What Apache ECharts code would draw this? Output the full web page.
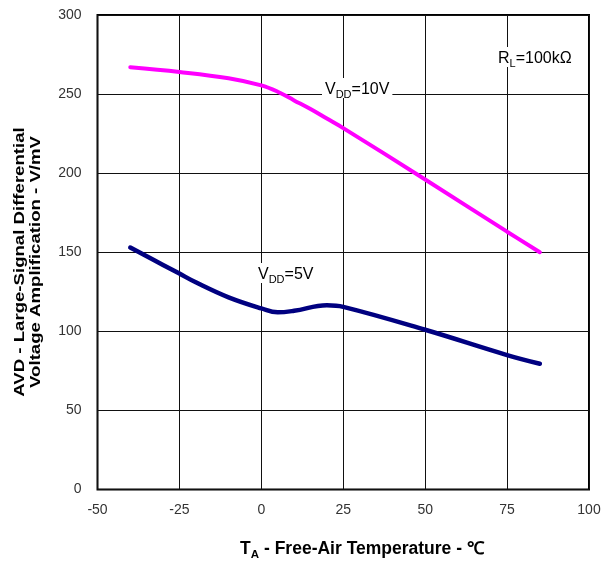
<!DOCTYPE html>
<html><head><meta charset="utf-8">
<script src="https://cdn.jsdelivr.net/npm/echarts@6/dist/echarts.min.js"></script>
<style>html,body{margin:0;padding:0;background:#fff}#c{width:613px;height:561px}</style>
</head><body><div id="c"></div>
<script>
var xTicks = [-50, -25, 0, 25, 50, 75, 100];
var yTicks = [0, 50, 100, 150, 200, 250, 300];
var temps10 = [-40, -25, -10, 0, 5, 10, 15, 20, 25, 50, 75, 85];
var vals10  = [267, 264, 260, 255.5, 251.5, 246, 240.5, 234.5, 228.5, 196, 163, 150];
var temps5 = [-40, -30, -25, -20, -10, 0, 5, 10, 20, 25, 50, 75, 85];
var vals5  = [153, 142, 136.5, 131, 121.5, 114.5, 112, 113, 116.5, 115.5, 101, 85, 79.5];
var seriesNames = ['VDD=10V', 'VDD=5V'];

var chart = echarts.init(document.getElementById('c'), null, {renderer: 'canvas'});
var font = '"Liberation Sans Narrow", "Liberation Sans", Arial, sans-serif';
function pairs(xs, ys){ return xs.map(function(x,i){ return [x, ys[i]]; }); }

chart.setOption({
  animation: false,
  grid: {left: 97.5, top: 15, right: 24, bottom: 71.5, show: true, borderColor: '#000', borderWidth: 2, backgroundColor: 'transparent'},
  xAxis: {
    type: 'value', min: xTicks[0], max: xTicks[xTicks.length-1], interval: 25,
    axisLine: {show: false}, axisTick: {show: false},
    splitLine: {show: true, lineStyle: {color: '#111', width: 1}},
    axisLabel: {color: '#333', fontSize: 14, fontFamily: font, margin: 14}
  },
  yAxis: {
    type: 'value', min: yTicks[0], max: yTicks[yTicks.length-1], interval: 50,
    axisLine: {show: false}, axisTick: {show: false},
    splitLine: {show: true, lineStyle: {color: '#111', width: 1}},
    axisLabel: {color: '#333', fontSize: 14, fontFamily: font, margin: 16}
  },
  series: [
    {name: seriesNames[0], type: 'line', data: pairs(temps10, vals10), smooth: 0.4, symbol: 'none',
     lineStyle: {color: '#ff00ff', width: 4, cap: 'round'}, z: 3},
    {name: seriesNames[1], type: 'line', data: pairs(temps5, vals5), smooth: 0.4, symbol: 'none',
     lineStyle: {color: '#000080', width: 4.5, cap: 'round'}, z: 3}
  ],
  graphic: [
    {type: 'text', left: 322, top: 78, z: 10, style: {
      text: '{n|V}{s|DD}{n|=10V}', backgroundColor: '#fff', padding: [2, 3, 0, 3],
      rich: {n: {fontSize: 16, fontFamily: font, fill: '#000', verticalAlign: 'bottom', lineHeight: 18},
             s: {fontSize: 11, fontFamily: font, fill: '#000', verticalAlign: 'bottom', lineHeight: 12, padding: [0,0,-2,0]}}}},
    {type: 'text', left: 256, top: 263, z: 10, style: {
      text: '{n|V}{s|DD}{n|=5V}', backgroundColor: '#fff', padding: [2, 2, 0, 2],
      rich: {n: {fontSize: 16, fontFamily: font, fill: '#000', verticalAlign: 'bottom', lineHeight: 18},
             s: {fontSize: 11, fontFamily: font, fill: '#000', verticalAlign: 'bottom', lineHeight: 12, padding: [0,0,-2,0]}}}},
    {type: 'text', left: 496, top: 47, z: 10, style: {
      text: '{n|R}{s|L}{n|=100kΩ}', backgroundColor: '#fff', padding: [2, 2, 0, 2],
      rich: {n: {fontSize: 16, fontFamily: font, fill: '#000', verticalAlign: 'bottom', lineHeight: 18},
             s: {fontSize: 11, fontFamily: font, fill: '#000', verticalAlign: 'bottom', lineHeight: 12, padding: [0,0,-2,0]}}}},
    {type: 'text', x: 362, y: 549, z: 10, style: {
      text: '{n|T}{s|A}{n| - Free-Air Temperature - ℃}', align: 'center', verticalAlign: 'middle',
      rich: {n: {fontSize: 17.5, fontWeight: 'bold', fontFamily: font, fill: '#000', verticalAlign: 'bottom', lineHeight: 19},
             s: {fontSize: 11.5, fontWeight: 'bold', fontFamily: font, fill: '#000', verticalAlign: 'bottom', lineHeight: 12, padding: [0,0,-2,0]}}}},
    {type: 'text', x: 20, y: 262, rotation: Math.PI / 2, scaleX: 1.2, z: 10, style: {
      text: 'AVD - Large-Signal Differential', align: 'center', verticalAlign: 'middle',
      fontSize: 15.5, fontWeight: 'bold', fontFamily: font, fill: '#000'}},
    {type: 'text', x: 36, y: 262, rotation: Math.PI / 2, scaleX: 1.2, z: 10, style: {
      text: 'Voltage Amplification - V/mV', align: 'center', verticalAlign: 'middle',
      fontSize: 15.5, fontWeight: 'bold', fontFamily: font, fill: '#000'}}
  ]
});
</script></body></html>
